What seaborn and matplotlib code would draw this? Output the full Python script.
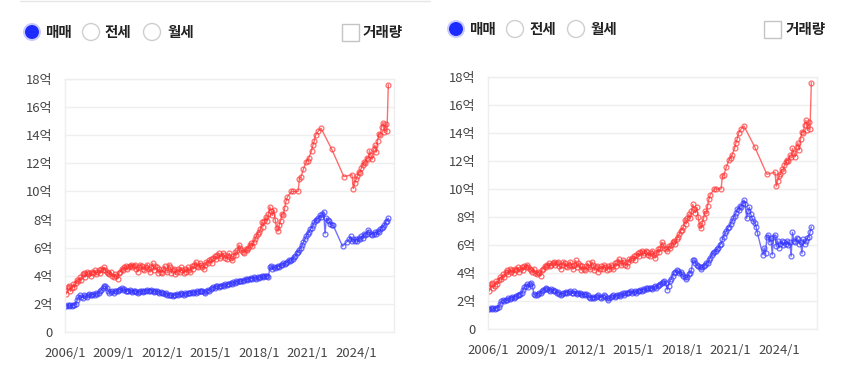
import numpy as np
import pandas as pd
import matplotlib
matplotlib.use('Agg')
import matplotlib.pyplot as plt
from matplotlib.patches import Circle, Rectangle
import seaborn as sns

nan = np.nan

# monthly values (억), one row per year starting 2006/1, last row = 2026/1
red_price = [
    [3.0, 2.7, 3.2, 3.3, 2.9, 3.1, 3.4, 3.2, 3.5, 3.7, 3.6, 3.9],
    [3.7, 4.1, 4.2, 3.9, 4.3, 4.1, 4.2, 4.0, 4.3, 4.2, 4.4, 4.1],
    [4.3, 4.4, 4.2, 4.5, 4.4, 4.6, 4.4, 4.3, 4.2, 4.1, 4.3, 4.0],
    [3.9, 4.1, 4.0, 3.8, 4.2, 4.3, 4.5, 4.4, 4.6, 4.7, 4.5, 4.6],
    [4.7, 4.8, 4.6, 4.7, 4.8, 4.5, 4.3, 4.6, 4.8, 4.7, 4.5, 4.4],
    [4.6, 4.8, 4.5, 4.3, 4.6, 4.9, 4.4, 4.7, 4.6, 4.2, 4.5, 4.3],
    [4.2, 4.5, 4.7, 4.4, 4.3, 4.8, 4.6, 4.2, 4.4, 4.5, 4.1, 4.3],
    [4.5, 4.3, 4.6, 4.4, 4.2, 4.5, 4.3, 4.6, 4.4, 4.3, 4.7, 4.5],
    [4.8, 5.0, 4.7, 4.6, 4.9, 4.8, 4.6, 4.5, 4.8, 5.0, 4.9, 5.1],
    [5.2, 4.9, 5.3, 5.4, 5.2, 5.5, 5.6, 5.3, 5.4, 5.6, 5.5, 5.3],
    [5.2, 5.4, 5.6, 5.3, 5.1, 5.4, 5.7, 5.5, 5.8, 6.2, 6.0, 5.8],
    [5.7, 5.6, 5.9, 5.8, 6.0, 6.2, 6.3, 6.1, 6.4, 6.6, 6.8, 7.0],
    [7.1, 7.3, 7.8, 7.5, 7.9, 8.2, 7.9, 8.4, 8.9, 8.6, 8.3, 8.7],
    [8.0, 7.4, 7.2, 7.6, 7.9, 8.4, 8.3, 8.8, 9.3, 9.6, nan, nan],
    [10.0, 10.0, nan, nan, nan, 10.0, 10.9, 11.0, nan, 11.6, nan, 12.1],
    [12.2, 12.4, nan, 12.9, 13.3, 13.6, 14.0, nan, 14.3, nan, 14.5, nan],
    [nan, nan, nan, nan, nan, nan, 13.0, nan, nan, nan, nan, nan],
    [nan, nan, nan, 11.05, nan, nan, nan, nan, nan, 11.2, 10.2, 10.6],
    [10.9, 11.1, 11.4, 11.3, 11.7, 11.9, 12.1, 12.0, 12.4, 12.3, 12.9, 12.6],
    [12.3, 13.0, 13.3, 12.8, 13.6, 14.1, 14.0, 14.6, 14.9, 14.2, 14.8, 14.3],
    [17.6],
]

blue_left = [
    [1.85, 1.85, 1.9, 1.85, 1.9, 1.85, 1.9, 1.95, 2.0, 2.3, 2.5, 2.6],
    [2.5, 2.45, 2.6, 2.55, 2.5, 2.6, 2.7, 2.6, 2.65, 2.7, 2.6, 2.75],
    [2.7, 2.8, 2.9, 3.0, 3.1, 3.25, 3.3, 3.15, 2.95, 2.8, 2.85, 2.9],
    [2.8, 2.9, 2.95, 2.9, 3.0, 3.05, 3.1, 3.0, 3.05, 2.95, 2.9, 2.95],
    [3.0, 2.9, 2.85, 2.9, 2.95, 2.85, 2.8, 2.85, 2.9, 2.95, 2.85, 2.9],
    [2.95, 3.0, 2.9, 2.95, 3.0, 2.9, 2.85, 2.9, 2.95, 2.85, 2.8, 2.85],
    [2.8, 2.75, 2.7, 2.75, 2.65, 2.6, 2.65, 2.6, 2.55, 2.6, 2.65, 2.7],
    [2.65, 2.7, 2.75, 2.7, 2.65, 2.75, 2.7, 2.8, 2.75, 2.8, 2.85, 2.8],
    [2.85, 2.8, 2.9, 2.85, 2.9, 2.95, 2.9, 2.85, 2.75, 2.9, 3.0, 2.95],
    [3.05, 3.1, 3.2, 3.15, 3.25, 3.3, 3.2, 3.25, 3.3, 3.35, 3.3, 3.4],
    [3.35, 3.4, 3.45, 3.5, 3.45, 3.55, 3.5, 3.6, 3.55, 3.6, 3.65, 3.6],
    [3.65, 3.7, 3.75, 3.7, 3.8, 3.75, 3.85, 3.8, 3.9, 3.85, 3.8, 3.9],
    [3.85, 3.9, 3.95, 3.9, 4.0, 3.95, 4.0, 3.9, 4.6, 4.7, 4.5, 4.6],
    [4.55, 4.6, 4.7, 4.65, 4.8, 4.75, 4.9, 4.85, 4.9, 5.0, 5.1, 5.05],
    [5.1, 5.2, 5.35, 5.4, 5.6, 5.7, 5.8, 6.0, 6.2, 6.4, 6.6, 6.8],
    [6.95, 7.1, 7.3, 7.4, 7.6, 7.8, 7.95, 8.0, 8.1, 8.3, 8.2, 8.4],
    [8.55, 7.0, 8.1, 8.0, 7.9, 7.7, 7.6, 7.6, nan, nan, nan, nan],
    [nan, nan, 6.1, nan, nan, 6.4, nan, 6.6, 6.8, 6.5, 6.6, 6.5],
    [6.6, 6.5, 6.7, 6.6, 6.8, 6.7, 7.0, 6.9, 7.0, 7.25, 7.1, 7.0],
    [6.9, 7.0, 7.1, 7.0, 7.2, 7.1, 7.3, 7.4, 7.5, 7.6, 7.8, 7.9],
    [8.1],
]

blue_right = [
    [1.45, 1.4, 1.5, 1.4, 1.5, 1.45, 1.5, 1.5, 1.6, 1.8, 2.0, 2.05],
    [2.0, 2.1, 2.05, 2.2, 2.15, 2.25, 2.3, 2.2, 2.3, 2.35, 2.4, 2.45],
    [2.5, 2.6, 2.8, 3.0, 3.1, 3.2, 3.0, 3.25, 3.3, 3.1, 2.5, 2.4],
    [2.45, 2.5, 2.55, 2.6, 2.7, 2.8, 2.85, 2.9, 2.85, 2.8, 2.75, 2.85],
    [2.8, 2.75, 2.7, 2.6, 2.65, 2.5, 2.45, 2.5, 2.55, 2.6, 2.65, 2.6],
    [2.65, 2.7, 2.6, 2.55, 2.7, 2.6, 2.5, 2.55, 2.6, 2.5, 2.45, 2.5],
    [2.45, 2.5, 2.4, 2.3, 2.25, 2.2, 2.3, 2.25, 2.3, 2.35, 2.4, 2.3],
    [2.25, 2.3, 2.4, 2.35, 2.2, 2.1, 2.2, 2.3, 2.35, 2.4, 2.3, 2.35],
    [2.4, 2.45, 2.35, 2.5, 2.55, 2.45, 2.6, 2.55, 2.6, 2.65, 2.7, 2.6],
    [2.65, 2.7, 2.6, 2.75, 2.7, 2.8, 2.75, 2.85, 2.8, 2.9, 2.85, 2.9],
    [2.9, 2.95, 2.85, 3.0, 3.05, 2.95, 3.1, 3.15, 3.2, 3.3, 3.35, 3.4],
    [3.3, 2.8, 3.1, 3.4, 3.6, 3.8, 4.0, 4.1, 4.2, 4.15, 4.0, 4.1],
    [3.9, 3.8, 3.7, 3.6, 3.75, 3.9, 4.0, 4.2, 4.9, 4.95, 4.7, 4.6],
    [4.5, 4.4, 4.3, 4.4, 4.5, 4.6, 4.7, 4.75, 4.9, 5.1, 5.3, 5.4],
    [5.5, 5.6, 5.7, 5.8, 6.0, 6.1, 6.4, 6.6, 6.85, 7.0, 7.2, 7.3],
    [7.5, 7.7, 7.9, 8.1, 8.3, 8.6, 8.5, 8.8, 8.7, 9.0, 9.2, 8.9],
    [7.9, 8.4, 8.7, 8.2, 7.9, 7.7, 7.6, 7.3, 6.85, nan, nan, nan],
    [5.3, 5.8, 5.4, 6.6, 6.7, 6.2, 6.5, 5.3, 6.6, 6.7, 5.9, 6.3],
    [5.8, 6.1, 6.3, 6.0, 6.2, 6.1, 6.3, 6.0, 6.2, 5.2, 6.9, 6.3],
    [6.2, 6.5, 6.4, 6.1, 6.2, 5.4, 6.4, 6.1, 6.3, 6.5, 6.6, 6.9],
    [7.3],
]

start_year = 2006
tick_years = [2006, 2009, 2012, 2015, 2018, 2021, 2024]
y_ticks = [0, 2, 4, 6, 8, 10, 12, 14, 16, 18]
radio_labels = ['매매', '전세', '월세']
check_label = '거래량'

RED = '#ff3030'
BLUE = '#3535ff'


def to_frame(rows):
    t, v = [], []
    for i, row in enumerate(rows):
        for m, val in enumerate(row):
            t.append(start_year + i + m / 12)
            v.append(val)
    return pd.DataFrame({'t': t, 'v': v}).dropna()


sns.set_theme(style='white')
plt.rcParams['font.family'] = ['Noto Sans CJK KR', 'DejaVu Sans']

fig = plt.figure(figsize=(8.55, 3.72), dpi=100)

# overlay in pixel coordinates for the radio / checkbox header
ov = fig.add_axes([0, 0, 1, 1])
ov.set_xlim(0, 855)
ov.set_ylim(372, 0)
ov.axis('off')
ov.plot([20, 430], [1, 1], color='#e6e6e6', lw=1)

headers = [
    dict(yc=32, radios=[32, 91, 152], labels=[45, 105, 167], box=342, box_lbl=363),
    dict(yc=29, radios=[456, 515, 576], labels=[469, 530, 590], box=764, box_lbl=786),
]
for h in headers:
    for k, (cx, lx) in enumerate(zip(h['radios'], h['labels'])):
        if k == 0:
            ov.add_patch(Circle((cx, h['yc']), 9, facecolor='#c9cbff', edgecolor='none'))
            ov.add_patch(Circle((cx, h['yc']), 7, facecolor='#1e2bff', edgecolor='none'))
        else:
            ov.add_patch(Circle((cx, h['yc']), 8.5, facecolor='white', edgecolor='#cfcfcf', lw=1))
        ov.text(lx, h['yc'], radio_labels[k], fontsize=10.5, fontweight='bold',
                color='#222222', va='center', ha='left')
    ov.add_patch(Rectangle((h['box'], h['yc'] - 8.5), 17, 17, facecolor='white',
                           edgecolor='#c4c4c4', lw=1))
    ov.text(h['box_lbl'], h['yc'], check_label, fontsize=10.5, fontweight='bold',
            color='#222222', va='center', ha='left')

panels = [
    ([65 / 855, 1 - 332 / 372, 329 / 855, 253 / 372], blue_left),
    ([488 / 855, 1 - 329 / 372, 329 / 855, 252 / 372], blue_right),
]

red_df = to_frame(red_price)
for rect, blue_rows in panels:
    ax = fig.add_axes(rect)
    blue_df = to_frame(blue_rows)
    for df, col in [(red_df, RED), (blue_df, BLUE)]:
        sns.lineplot(data=df, x='t', y='v', ax=ax, color=col, lw=1.0, alpha=0.7,
                     marker='o', markersize=3.5, markerfacecolor='none',
                     markeredgecolor=col, markeredgewidth=0.9)
    ax.set_xlim(2006, 2026.35)
    ax.set_ylim(0, 18)
    ax.set_yticks(y_ticks)
    ax.set_yticklabels(['0' if v == 0 else f'{v}억' for v in y_ticks])
    ax.set_xticks(tick_years)
    ax.set_xticklabels([f'{y}/1' for y in tick_years])
    ax.set_xlabel('')
    ax.set_ylabel('')
    ax.grid(axis='y', color='#efefef', lw=1)
    ax.grid(axis='x', visible=False)
    for s in ax.spines.values():
        s.set_color('#eeeeee')
        s.set_linewidth(1)
    ax.tick_params(axis='both', length=0, labelsize=9.4, colors='#444444')
    ax.tick_params(axis='y', pad=9)
    ax.tick_params(axis='x', pad=11)

fig.savefig('out.png', dpi=100)
